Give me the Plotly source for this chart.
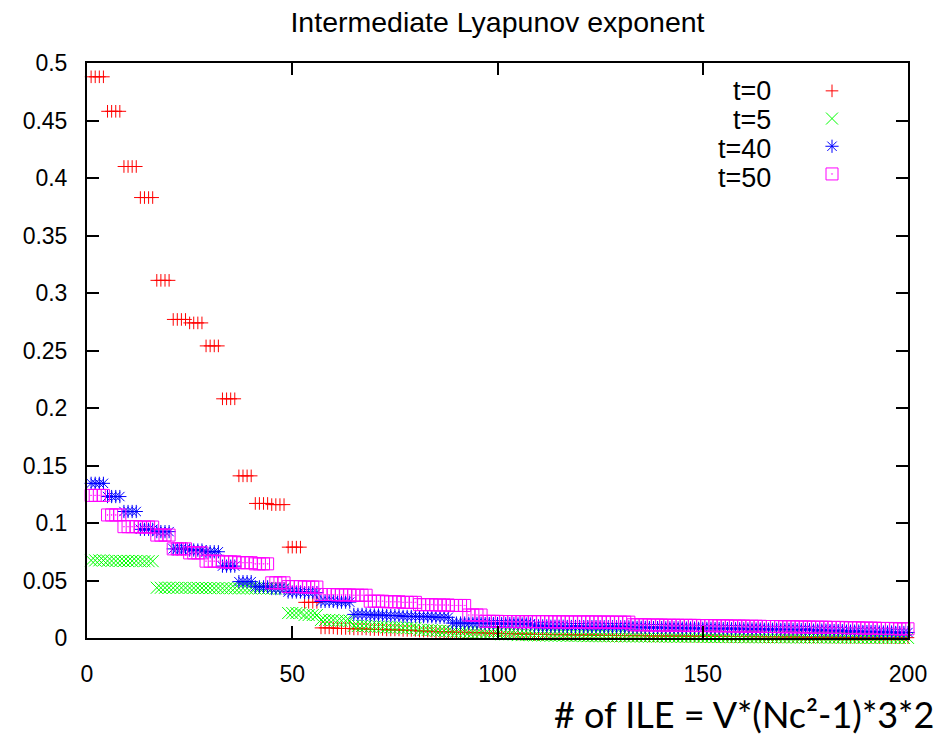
import numpy as np
import plotly.graph_objects as go

# Eigenvalues come in degenerate groups of 4 consecutive indices
GROUP = 4
idx = list(range(1, 201))

t0_groups = [0.488, 0.458, 0.410, 0.383, 0.311, 0.277, 0.274, 0.254, 0.208, 0.141,
             0.117, 0.116, 0.079, 0.031, 0.0088, 0.0083, 0.0079, 0.0074, 0.0070, 0.0066,
             0.0060, 0.0055, 0.0050, 0.0046, 0.0042, 0.0038, 0.0034, 0.0031, 0.0029, 0.0027,
             0.0025, 0.0023, 0.0021, 0.0020, 0.0018, 0.0017, 0.0016, 0.0015, 0.0014, 0.0013,
             0.0012, 0.0011, 0.0010, 0.0009, 0.0008, 0.0007, 0.0006, 0.0005, 0.0004, 0.0003]

t5_groups = [0.0675, 0.0670, 0.0670, 0.0668, 0.0437, 0.0436, 0.0435, 0.0434, 0.0433, 0.0432,
             0.0431, 0.0430, 0.0217, 0.0200, 0.0157, 0.0150, 0.0105, 0.0098, 0.0092, 0.0086,
             0.0070, 0.0062, 0.0055, 0.0048, 0.0040, 0.0032, 0.0025, 0.0022, 0.0020, 0.0018,
             0.0016, 0.0015, 0.0014, 0.0013, 0.0012, 0.0011, 0.0010, 0.0009, 0.0008, 0.0007,
             0.0006, 0.0006, 0.0005, 0.0004, 0.0004, 0.0003, 0.0002, 0.0002, 0.0001, 0.0001]

t40_groups = [0.1345, 0.1230, 0.1100, 0.0945, 0.0925, 0.0775, 0.0765, 0.0750, 0.0625, 0.0490,
              0.0445, 0.0430, 0.0400, 0.0395, 0.0318, 0.0312, 0.0205, 0.0200, 0.0195, 0.0188,
              0.0185, 0.0180, 0.0130, 0.0128, 0.0126, 0.0124, 0.0122, 0.0105, 0.0102, 0.0100,
              0.0099, 0.0098, 0.0097, 0.0092, 0.0090, 0.0088, 0.0086, 0.0084, 0.0082, 0.0080,
              0.0078, 0.0076, 0.0074, 0.0072, 0.0068, 0.0064, 0.0060, 0.0056, 0.0052, 0.0048]

t50_groups = [0.1240, 0.1070, 0.0968, 0.0965, 0.0895, 0.0775, 0.0740, 0.0668, 0.0662, 0.0655,
              0.0645, 0.0480, 0.0447, 0.0443, 0.0378, 0.0375, 0.0372, 0.0320, 0.0315, 0.0310,
              0.0290, 0.0287, 0.0283, 0.0200, 0.0145, 0.0143, 0.0142, 0.0142, 0.0141, 0.0140,
              0.0140, 0.0139, 0.0138, 0.0115, 0.0113, 0.0111, 0.0110, 0.0108, 0.0106, 0.0104,
              0.0102, 0.0100, 0.0098, 0.0096, 0.0094, 0.0092, 0.0089, 0.0086, 0.0083, 0.0080]

labels = ["t=0", "t=5", "t=40", "t=50"]
colors = ["#ff0000", "#00ff00", "#0000ff", "#ff00ff"]
symbols = ["cross-thin-open", "x-thin-open", "asterisk-open", "square-open-dot"]
sizes = [9, 12, 11, 12]
series = [t0_groups, t5_groups, t40_groups, t50_groups]

fig = go.Figure()
for name, grp, col, sym, sz in zip(labels, series, colors, symbols, sizes):
    y = np.repeat(grp, GROUP)
    fig.add_trace(go.Scatter(
        x=idx, y=y, mode="markers", name=name, showlegend=False, cliponaxis=False,
        marker=dict(symbol=sym, size=sz, color=col, line=dict(color=col, width=1))))

# legend keys (symbol only) — the label text is placed to the left, as gnuplot does
for name, col, sym, sz in zip(labels, colors, symbols, sizes):
    fig.add_trace(go.Scatter(
        x=[None], y=[None], mode="markers", name="\u00a0", showlegend=True,
        marker=dict(symbol=sym, size=sz, color=col, line=dict(color=col, width=1))))

font_main = "Liberation Sans, Arial, sans-serif"
L, R, T, B = 87, 41, 63, 101
W, H = 949, 739
pw, ph = W - L - R, H - T - B

def px2paper_x(px):
    return (px - L) / pw

def px2paper_y(py):
    return (H - B - py) / ph

rows = [91, 120, 149, 178]
annotations = []
for lab, ry in zip(labels, rows):
    annotations.append(dict(text=lab, x=px2paper_x(773), y=px2paper_y(ry), xref="paper", yref="paper",
                            xanchor="right", yanchor="middle", showarrow=False,
                            font=dict(family=font_main, size=27, color="black")))
annotations.append(dict(text="# of ILE = V*(Nc\u00b2-1)*3*2", x=px2paper_x(936), y=px2paper_y(714),
                        xref="paper", yref="paper", xanchor="right", yanchor="middle", showarrow=False,
                        font=dict(family="Lato, sans-serif", size=36, color="black")))

axis_common = dict(showline=True, linewidth=2, linecolor="black", mirror="ticks", ticks="inside",
                   ticklen=12, tickwidth=2, tickcolor="black", showgrid=False, zeroline=False,
                   tickfont=dict(family=font_main, size=23, color="black"))

fig.update_layout(
    width=W, height=H,
    margin=dict(l=L, r=R, t=T, b=B, pad=0),
    paper_bgcolor="white", plot_bgcolor="white",
    title=dict(text="Intermediate Lyapunov exponent", x=0.5, xref="paper", xanchor="center",
               y=1 - 22 / H, yref="container", yanchor="middle",
               font=dict(family=font_main, size=28.5, color="black")),
    xaxis=dict(range=[0, 200], dtick=50, ticklabelstandoff=14, **axis_common),
    yaxis=dict(range=[0, 0.5], dtick=0.05, ticklabelstandoff=13, **axis_common),
    legend=dict(x=px2paper_x(812), y=px2paper_y(72), xanchor="left", yanchor="top",
                font=dict(family=font_main, size=19), bgcolor="rgba(0,0,0,0)",
                itemwidth=30, tracegroupgap=0),
    annotations=annotations,
    showlegend=True,
)

fig.write_html("out.html")
